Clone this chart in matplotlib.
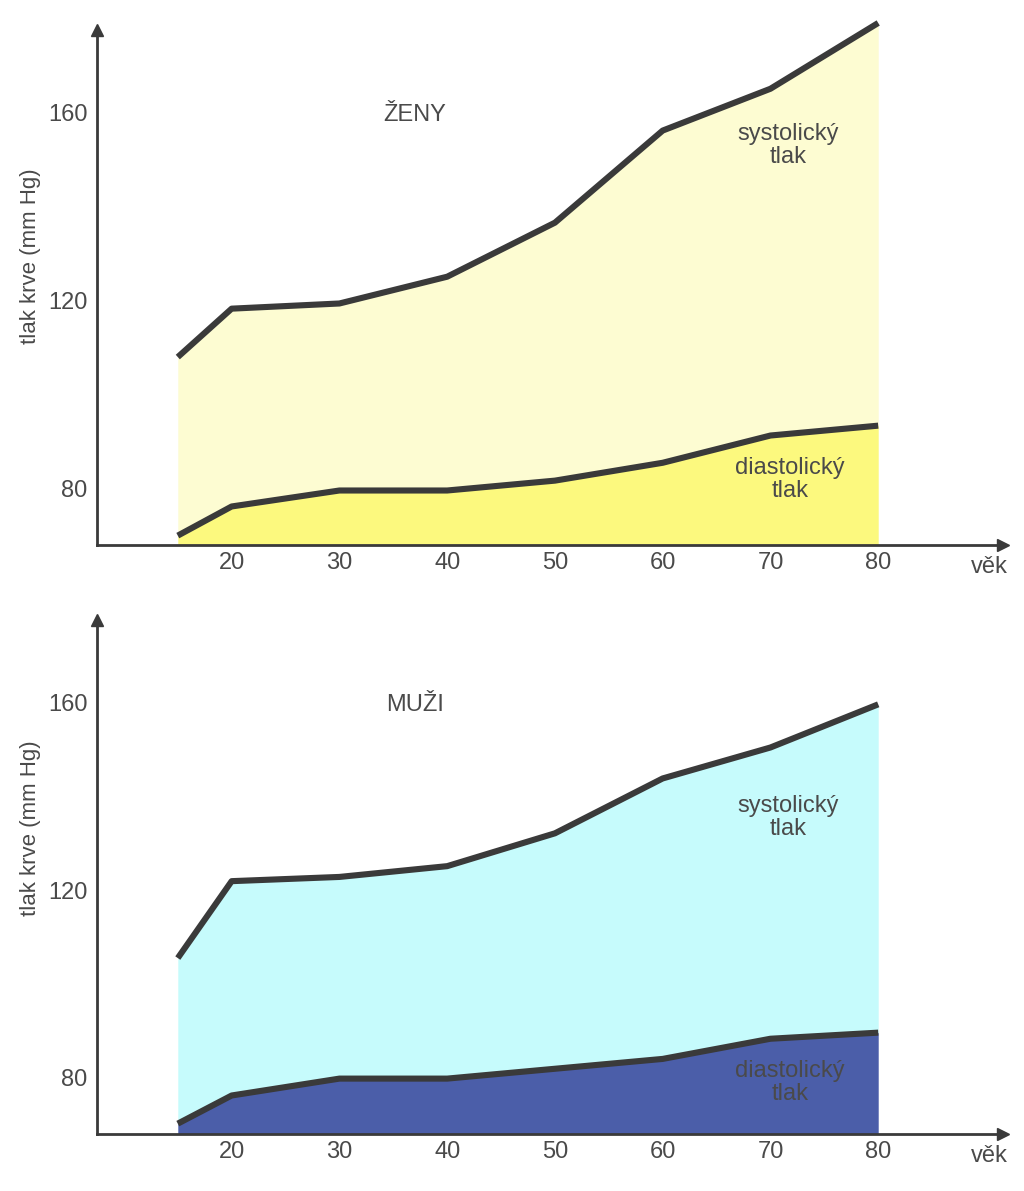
import matplotlib

matplotlib.use("Agg")
import matplotlib.pyplot as plt

plt.rcParams["font.family"] = ["Liberation Sans", "DejaVu Sans"]

INK = "#3a3a3a"
TEXT = "#4a4a4a"
FS = 17

# Věk (roky) a tlak krve (mm Hg)
ages = [15, 20, 30, 40, 50, 60, 70, 80]
zeny_syst = [108, 118.3, 119.4, 125.1, 136.6, 156.2, 165.1, 179.1]
zeny_diast = [70, 76.2, 79.6, 79.6, 81.7, 85.5, 91.3, 93.4]
muzi_syst = [105.5, 121.9, 122.8, 125.1, 132.1, 143.8, 150.4, 159.6]
muzi_diast = [70.2, 76.2, 79.8, 79.8, 81.9, 84.0, 88.3, 89.6]

xticks = [20, 30, 40, 50, 60, 70, 80]
yticks = [80, 120, 160]

Y0 = 68.0

PANELS = [
    # title, syst, diast, light fill, dark fill, axes rect, ylabel y
    ("ŽENY", zeny_syst, zeny_diast, "#fdfcd2", "#fcf97e",
     [0.0947, 0.5424, 0.885, 0.4324], 0.561),
    ("MUŽI", muzi_syst, muzi_diast, "#c6fbfc", "#4b5ea9",
     [0.0947, 0.0479, 0.885, 0.4316], 0.595),
]


def panel(fig, title, syst, diast, light, dark, rect, ylab_y, syst_lab_y, diast_lab_y):
    ax = fig.add_axes(rect)
    ax.fill_between(ages, diast, syst, color=light, lw=0, zorder=1, clip_on=False)
    ax.fill_between(ages, Y0, diast, color=dark, lw=0, zorder=1, clip_on=False)
    ax.plot(ages, syst, color=INK, lw=4.4, solid_capstyle="butt", zorder=3,
            clip_on=False)
    ax.plot(ages, diast, color=INK, lw=4.4, solid_capstyle="butt", zorder=3,
            clip_on=False)

    ax.set_xlim(7.5, 91.6)
    ax.set_ylim(Y0, 177.6)
    for s in ["top", "right"]:
        ax.spines[s].set_visible(False)
    for s in ["left", "bottom"]:
        ax.spines[s].set_color(INK)
        ax.spines[s].set_linewidth(2.0)
        ax.spines[s].set_zorder(4)
    # arrow heads on axes
    ax.plot(1, 0, marker=">", color=INK, ms=9, transform=ax.transAxes,
            clip_on=False, zorder=5)
    ax.plot(0, 1, marker="^", color=INK, ms=9, transform=ax.transAxes,
            clip_on=False, zorder=5)

    ax.set_xticks(xticks)
    ax.set_yticks(yticks)
    ax.tick_params(length=0, labelsize=FS, labelcolor=TEXT)
    ax.tick_params(axis="x", pad=5)
    ax.tick_params(axis="y", pad=7)

    ax.text(-0.073, ylab_y, "tlak krve (mm Hg)", rotation=90, fontsize=FS - 1,
            color=TEXT, ha="center", va="center", transform=ax.transAxes)
    ax.text(0.985, -0.043, "věk", fontsize=FS, color=TEXT, ha="center",
            va="center", transform=ax.transAxes)
    ax.text(37, 159.5, title, fontsize=FS, color=TEXT, ha="center", va="center")
    ax.text(71.6, syst_lab_y, "systolický\ntlak", fontsize=FS, color=TEXT,
            ha="center", va="center", linespacing=1.05, zorder=6)
    ax.text(71.8, diast_lab_y, "diastolický\ntlak", fontsize=FS, color=TEXT,
            ha="center", va="center", linespacing=1.05, zorder=6)
    return ax


def main():
    fig = plt.figure(figsize=(10.24, 11.91), dpi=100)
    fig.patch.set_facecolor("white")
    panel(fig, *PANELS[0], syst_lab_y=153.0, diast_lab_y=82.0)
    panel(fig, *PANELS[1], syst_lab_y=135.5, diast_lab_y=78.9)
    fig.savefig("out.png", dpi=100, facecolor="white")


if __name__ == "__main__":
    main()
